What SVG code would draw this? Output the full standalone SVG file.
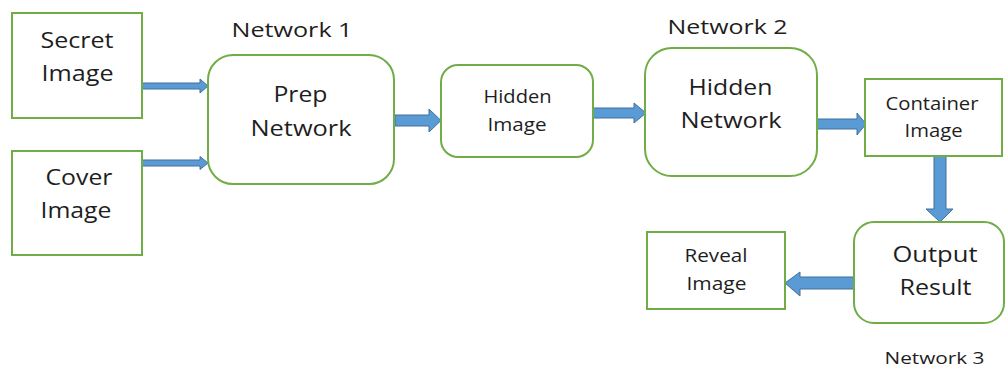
<svg xmlns="http://www.w3.org/2000/svg" width="1006" height="369" viewBox="0 0 1006 369">
  <style>
    .box { fill: #ffffff; stroke: #70AD47; stroke-width: 2; }
    .arrow { fill: #5B9BD5; stroke: #41719C; stroke-width: 1; stroke-linejoin: miter; }
    text { font-family: "Open Sans", "Liberation Sans", sans-serif; fill: #1e1e1e; text-anchor: middle; }
    .lg { font-size: 22px; }
    .md { font-size: 20px; }
    .sm { font-size: 18.5px; }
    .xs { font-size: 17px; }
  </style>
  <rect width="1006" height="369" fill="#ffffff"/>

  <!-- section captions -->
  <g id="captions">
    <text class="md" x="292" y="37" textLength="121" lengthAdjust="spacingAndGlyphs">Network 1</text>
    <text class="md" x="727.5" y="34" textLength="120" lengthAdjust="spacingAndGlyphs">Network 2</text>
    <text class="xs" x="934.5" y="364" textLength="100" lengthAdjust="spacingAndGlyphs">Network 3</text>
  </g>

  <!-- connectors -->
  <g id="connectors">
    <path class="arrow" d="M142,83 H200 V79 L208,86 L200,93 V89 H142 Z"/>
    <path class="arrow" d="M142,160 H200 V156.5 L208,163 L200,169.5 V166 H142 Z"/>
    <path class="arrow" d="M395,115 H429 V109 L441,120.5 L429,132 V126 H395 Z"/>
    <path class="arrow" d="M593,108 H634 V103 L646,113 L634,123 V118 H593 Z"/>
    <path class="arrow" d="M817,119 H857 V113 L866,124 L857,135 V129 H817 Z"/>
    <path class="arrow" d="M934,156 V209 H926 L940,222 L953,209 H946 V156 Z"/>
    <path class="arrow" d="M854,277 H800 V272 L785,283 L800,296 V289 H854 Z"/>
  </g>

  <g id="secret-image">
    <rect class="box" x="12" y="13" width="130" height="105"/>
    <text class="lg" x="77" y="48" textLength="73" lengthAdjust="spacingAndGlyphs">Secret</text>
    <text class="lg" x="77.5" y="81" textLength="72" lengthAdjust="spacingAndGlyphs">Image</text>
  </g>

  <g id="cover-image">
    <rect class="box" x="12" y="151" width="130" height="104"/>
    <text class="lg" x="79" y="185" textLength="67" lengthAdjust="spacingAndGlyphs">Cover</text>
    <text class="lg" x="76" y="218" textLength="71" lengthAdjust="spacingAndGlyphs">Image</text>
  </g>

  <g id="prep-network">
    <rect class="box" x="208" y="55" width="186" height="129" rx="25" ry="25"/>
    <text class="lg" x="300.5" y="102" textLength="54" lengthAdjust="spacingAndGlyphs">Prep</text>
    <text class="lg" x="301" y="136" textLength="101" lengthAdjust="spacingAndGlyphs">Network</text>
  </g>

  <g id="hidden-image">
    <rect class="box" x="441" y="65" width="152" height="92" rx="17" ry="17"/>
    <text class="sm" x="517.5" y="103" textLength="68" lengthAdjust="spacingAndGlyphs">Hidden</text>
    <text class="sm" x="517" y="131" textLength="59" lengthAdjust="spacingAndGlyphs">Image</text>
  </g>

  <g id="hidden-network">
    <rect class="box" x="645" y="48" width="172" height="128" rx="27" ry="27"/>
    <text class="lg" x="730.5" y="95" textLength="84" lengthAdjust="spacingAndGlyphs">Hidden</text>
    <text class="lg" x="731" y="128" textLength="101" lengthAdjust="spacingAndGlyphs">Network</text>
  </g>

  <g id="container-image">
    <rect class="box" x="865" y="79" width="137" height="77"/>
    <text class="sm" x="932" y="110" textLength="93" lengthAdjust="spacingAndGlyphs">Container</text>
    <text class="sm" x="933.5" y="137" textLength="58" lengthAdjust="spacingAndGlyphs">Image</text>
  </g>

  <g id="output-result">
    <rect class="box" x="854" y="222" width="150" height="101" rx="20" ry="20"/>
    <text class="lg" x="935" y="262" textLength="85" lengthAdjust="spacingAndGlyphs">Output</text>
    <text class="lg" x="935.5" y="295" textLength="72" lengthAdjust="spacingAndGlyphs">Result</text>
  </g>

  <g id="reveal-image">
    <rect class="box" x="647" y="232" width="138" height="77"/>
    <text class="sm" x="716" y="262" textLength="63" lengthAdjust="spacingAndGlyphs">Reveal</text>
    <text class="sm" x="716.5" y="290" textLength="60" lengthAdjust="spacingAndGlyphs">Image</text>
  </g>
</svg>
